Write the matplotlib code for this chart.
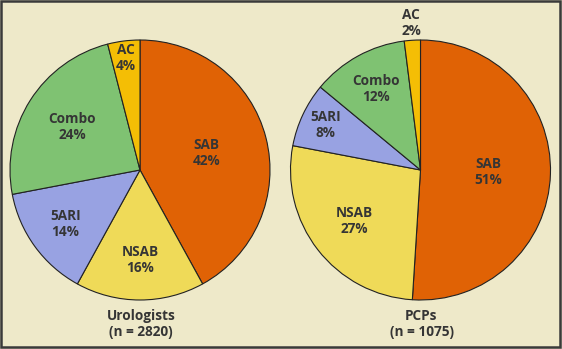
import numpy as np
import matplotlib
matplotlib.use("Agg")
import matplotlib.pyplot as plt
from matplotlib.patches import Rectangle

# categories and shares (%)
categories = ["SAB", "NSAB", "5ARI", "Combo", "AC"]
urologists = [42, 16, 14, 24, 4]
pcps = [51, 27, 8, 12, 2]
group_names = ["Urologists", "PCPs"]
group_n = [2820, 1075]

colors = ["#E06205", "#EFDA58", "#98A2E2", "#7FC272", "#F4BE05"]
bg = "#EEE9C9"
txt = "#353535"

# label distance (fraction of radius) for each wedge, per pie
label_r = [[0.53, 0.69, 0.71, 0.62, 0.87],
           [0.52, 0.64, 0.81, 0.71, 1.13]]

plt.rcParams["font.family"] = ["Open Sans", "DejaVu Sans"]

fig = plt.figure(figsize=(5.62, 3.49), dpi=100)
fig.patch.set_facecolor(bg)
ax = fig.add_axes([0, 0, 1, 1])
ax.set_facecolor(bg)

centers = [(140, 179), (420.5, 179)]
R = 130

for i, vals in enumerate([urologists, pcps]):
    cx, cy = centers[i]
    wedges, _ = ax.pie(vals, colors=colors, startangle=90, counterclock=False,
                       center=(cx, cy), radius=R,
                       wedgeprops=dict(edgecolor="#222222", linewidth=0.8))
    # labels at the wedge midpoint
    cum = np.cumsum([0] + vals)
    for j, cat in enumerate(categories):
        mid = 90 - (cum[j] + vals[j] / 2) / 100 * 360
        r = label_r[i][j] * R
        x = cx + r * np.cos(np.radians(mid))
        y = cy + r * np.sin(np.radians(mid))
        ax.text(x, y, f"{cat}\n{vals[j]}%", ha="center", va="center",
                fontsize=9.8, fontweight="bold", color=txt, linespacing=1.2)
    ax.text(cx + 1, 349 - 324, f"{group_names[i]}\n(n = {group_n[i]})",
            ha="center", va="center", fontsize=9.8, fontweight="bold",
            color=txt, linespacing=1.2)

ax.set_xlim(0, 562)
ax.set_ylim(0, 349)
ax.set_aspect("equal")
ax.axis("off")

# outer frame
fig.patches.append(Rectangle((0.8 / 562, 2 / 349), 559 / 562, 346 / 349,
                             transform=fig.transFigure, fill=False,
                             edgecolor="#3a3a3a", linewidth=1.8))

fig.savefig("out.png", dpi=100, facecolor=bg)
